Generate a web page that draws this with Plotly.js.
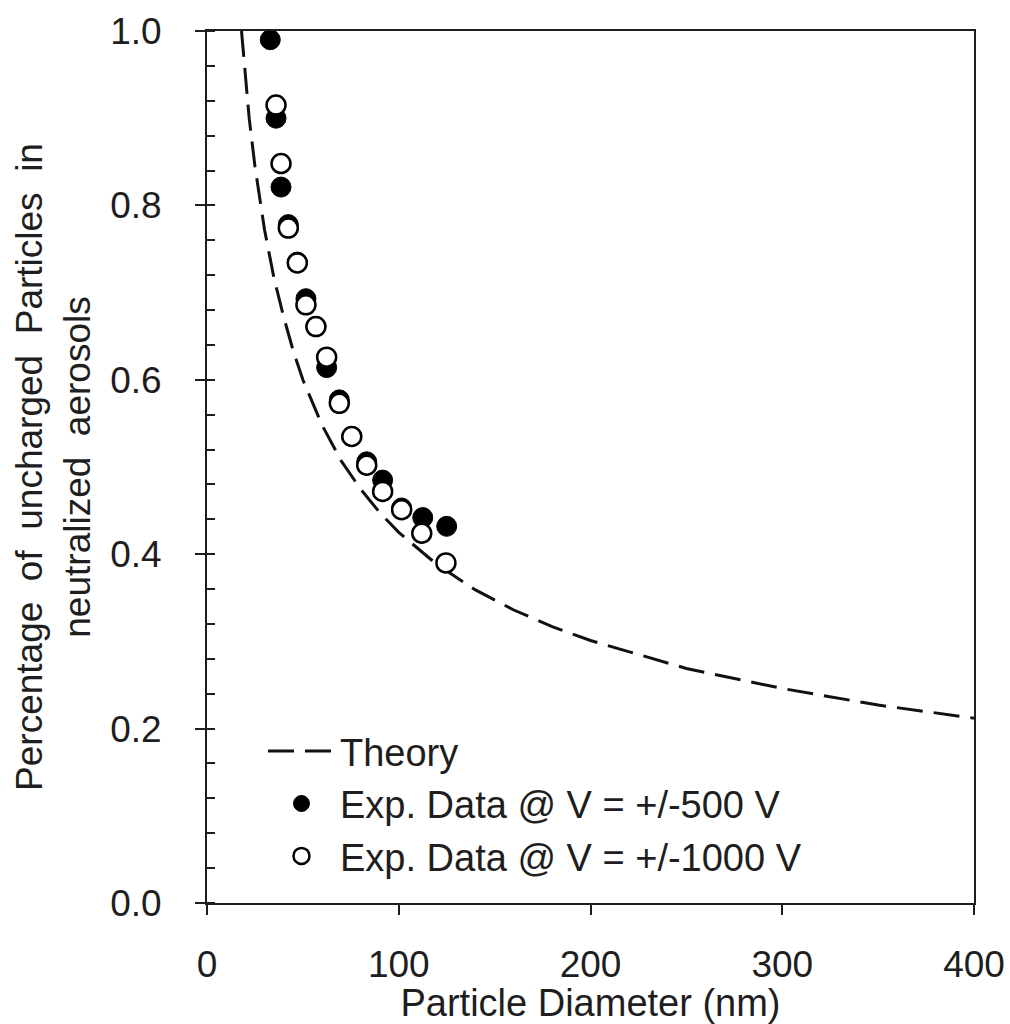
<!DOCTYPE html>
<html>
<head>
<meta charset="utf-8">
<script src="https://cdn.plot.ly/plotly-3.0.1.min.js"></script>
<style>html,body{margin:0;padding:0;background:#fff;}#chart{width:1010px;height:1024px;}</style>
</head>
<body>
<div id="chart"></div>
<script>
// Theory curve
var theoryD = [18, 20, 22, 25, 30, 35, 40, 45, 50, 60, 70, 80, 90, 100, 120, 140, 160, 180, 200, 250, 300, 350, 400];
var theoryV = [1.0, 0.95, 0.90, 0.845, 0.772, 0.716, 0.672, 0.633, 0.600, 0.548, 0.507, 0.475, 0.448, 0.425, 0.388, 0.359, 0.336, 0.317, 0.301, 0.269, 0.246, 0.227, 0.212];

// Exp. Data @ V = +/-500 V (filled)
var d500 = [33, 36, 38.6, 42.4, 47.1, 51.6, 56.8, 62.4, 69.0, 75.5, 83.3, 91.6, 101.5, 112.5, 125.0];
var v500 = [0.990, 0.900, 0.821, 0.778, 0.735, 0.693, 0.661, 0.614, 0.577, 0.535, 0.506, 0.485, 0.453, 0.442, 0.432];

// Exp. Data @ V = +/-1000 V (open)
var d1000 = [36, 38.6, 42.4, 47.1, 51.6, 56.8, 62.4, 69.0, 75.5, 83.3, 91.6, 101.5, 112.0, 124.6];
var v1000 = [0.915, 0.848, 0.774, 0.734, 0.686, 0.661, 0.626, 0.573, 0.535, 0.502, 0.472, 0.451, 0.424, 0.390];

var xTicks = [0, 100, 200, 300, 400];
var yTicks = [0.0, 0.2, 0.4, 0.6, 0.8, 1.0];
var yTickText = ['0.0', '0.2', '0.4', '0.6', '0.8', '1.0'];

var FONT = 'Liberation Sans, Arial, sans-serif';
var INK = '#1e1e1e';

var traces = [
  {
    x: theoryD, y: theoryV, type: 'scatter', mode: 'lines', name: 'Theory',
    line: {color: '#111', width: 3, dash: '26px,11px'}
  },
  {
    x: d500, y: v500, type: 'scatter', mode: 'markers', name: 'Exp. Data @ V = +/-500 V',
    marker: {color: '#000', size: 20, line: {color: '#000', width: 1}}
  },
  {
    x: d1000, y: v1000, type: 'scatter', mode: 'markers', name: 'Exp. Data @ V = +/-1000 V',
    marker: {color: '#fff', size: 19, line: {color: '#000', width: 2.5}}
  }
];

var layout = {
  width: 1010, height: 1024,
  margin: {l: 207, r: 36, t: 31, b: 121, pad: 0},
  paper_bgcolor: '#fff', plot_bgcolor: '#fff',
  font: {family: FONT, color: INK, size: 37},
  showlegend: true,
  legend: {
    x: 0.073, y: 0.21, xanchor: 'left', yanchor: 'top',
    bgcolor: 'rgba(0,0,0,0)', borderwidth: 0,
    font: {family: FONT, size: 38, color: INK},
    tracegroupgap: 0, itemwidth: 67
  },
  xaxis: {
    range: [0, 400], tickvals: xTicks, ticktext: xTicks.map(String),
    showgrid: false, zeroline: false,
    showline: true, linecolor: INK, linewidth: 2, mirror: true,
    ticks: 'outside', ticklen: 10, tickwidth: 2, tickcolor: INK,
    tickfont: {family: FONT, size: 37, color: INK},
    ticklabelstandoff: 18,
    title: {text: 'Particle Diameter (nm)', font: {family: FONT, size: 38, color: INK}, standoff: 6},
    automargin: false
  },
  yaxis: {
    range: [0, 1.0], tickvals: yTicks, ticktext: yTickText,
    showgrid: false, zeroline: false,
    showline: true, linecolor: INK, linewidth: 2, mirror: true,
    ticks: 'outside', ticklen: 10, tickwidth: 2, tickcolor: INK,
    tickfont: {family: FONT, size: 37, color: INK},
    ticklabelstandoff: 26,
    minor: {dtick: 0.04, tick0: 0, ticks: 'inside', ticklen: 8, tickwidth: 2, tickcolor: INK, showgrid: false},
    title: {text: 'Percentage  of  uncharged  Particles  in<br>neutralized  aerosols', font: {family: FONT, size: 37, color: INK}, standoff: 8},
    automargin: false
  }
};

Plotly.newPlot('chart', traces, layout, {displayModeBar: false, staticPlot: true});
</script>
</body>
</html>
